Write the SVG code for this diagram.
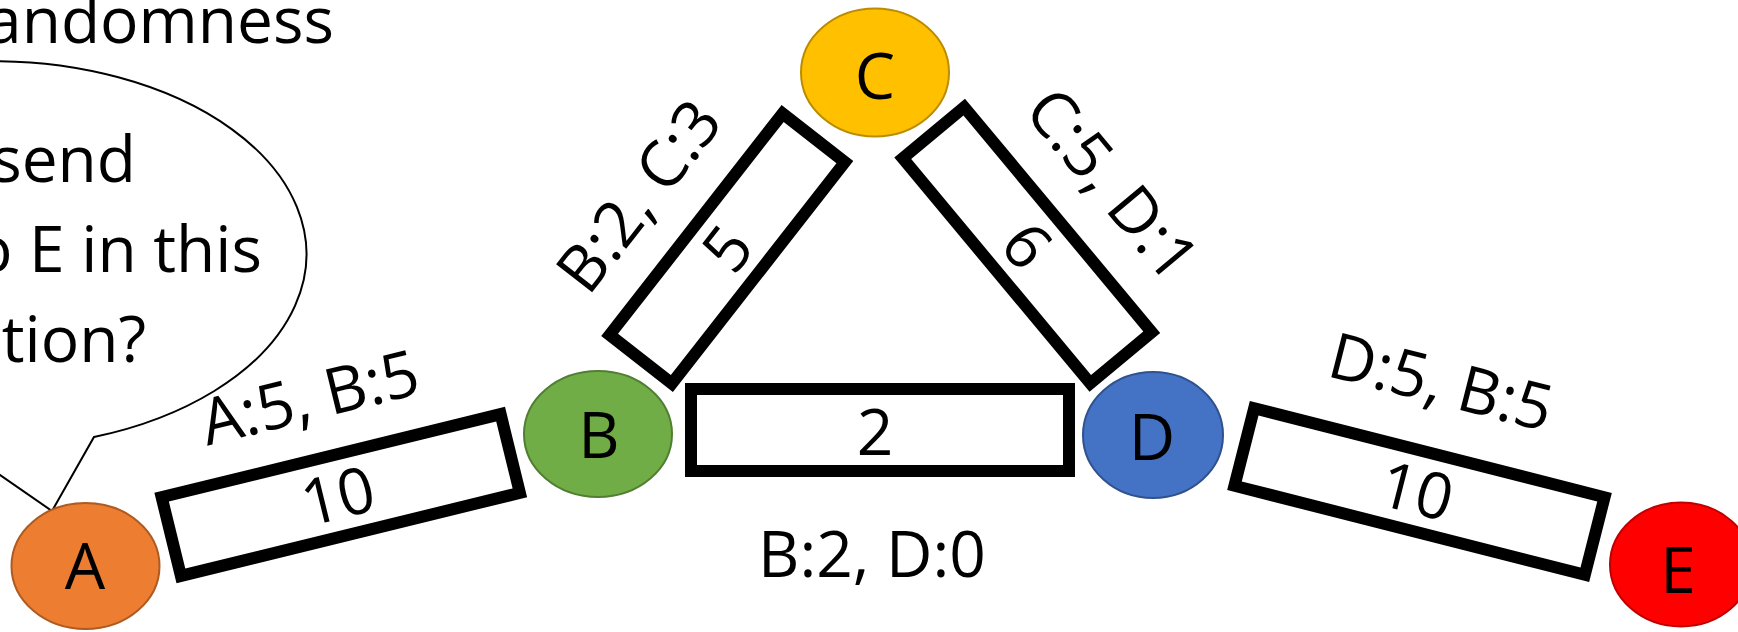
<svg xmlns="http://www.w3.org/2000/svg" width="1738" height="632" viewBox="0 0 1738 632">
  <style>
    text { font-family: "Open Sans", "Liberation Sans", sans-serif; font-size: 64px; fill: #000; }
    .node text, .num, .lbl { text-anchor: middle; }
    .line { text-anchor: end; }
    .box { fill: #fff; stroke: #000; stroke-width: 12; }
    .bubble { fill: #fff; stroke: #000; stroke-width: 2; }
    .node ellipse { stroke-width: 2; }
  </style>
  <rect width="1738" height="632" fill="#fff"/>

  <!-- title, cut at the left edge -->
  <text id="title" class="line" x="334" y="43">andomness</text>

  <!-- speech bubble with its tail pointing at A -->
  <g id="callout">
    <path class="bubble" d="M -42 446 A 313 193 0 1 1 94 437 L 52 511 Z"/>
    <text class="line" x="136" y="182">send</text>
    <text class="line" x="262" y="272">o E in this</text>
    <text class="line" x="146" y="362">tion?</text>
  </g>

  <!-- links: a capacity box per link, with its label -->
  <g id="connectors">
    <g id="edge-AB" transform="translate(340.75 495) rotate(-13.77)">
      <rect class="box" x="-174.5" y="-40.5" width="349" height="81"/>
      <text class="num" x="-3" y="23">10</text>
      <text class="lbl" x="-7" y="-79.5">A:5, B:5</text>
    </g>
    <g id="edge-BC" transform="translate(727.25 248.5) rotate(-52)">
      <rect class="box" x="-140.5" y="-39.5" width="281" height="79"/>
      <text class="num" x="0" y="23">5</text>
      <text class="lbl" x="-13" y="-79.5">B:2, C:3</text>
    </g>
    <g id="edge-CD" transform="translate(1027.25 245.25) rotate(50.2)">
      <rect class="box" x="-146.5" y="-40" width="293" height="80"/>
      <text class="num" x="0" y="23">6</text>
      <text class="lbl" x="7.6" y="-82">C:5, D:1</text>
    </g>
    <g id="edge-BD">
      <rect class="box" x="691" y="389" width="378" height="82"/>
      <text class="num" x="875" y="455">2</text>
      <text class="lbl" x="872" y="577">B:2, D:0</text>
    </g>
    <g id="edge-DE" transform="translate(1419.5 491.5) rotate(14.26)">
      <rect class="box" x="-180.75" y="-40" width="361.5" height="80"/>
      <text class="num" x="-3" y="23">10</text>
      <text class="lbl" x="-6" y="-89">D:5, B:5</text>
    </g>
  </g>

  <!-- nodes -->
  <g id="node-A" class="node">
    <ellipse cx="85.5" cy="566" rx="74" ry="63" fill="#ED7D31" stroke="#AE5A21"/>
    <text x="85" y="589">A</text>
  </g>
  <g id="node-B" class="node">
    <ellipse cx="598" cy="434" rx="74" ry="63" fill="#70AD47" stroke="#507E32"/>
    <text x="599" y="458">B</text>
  </g>
  <g id="node-C" class="node">
    <ellipse cx="875" cy="72.5" rx="74" ry="64" fill="#FFC000" stroke="#BC8C00"/>
    <text x="875" y="99">C</text>
  </g>
  <g id="node-D" class="node">
    <ellipse cx="1153" cy="435" rx="70" ry="63" fill="#4472C4" stroke="#2F528F"/>
    <text x="1152" y="460">D</text>
  </g>
  <g id="node-E" class="node">
    <ellipse cx="1681" cy="564.5" rx="71" ry="62" fill="#FF0000" stroke="#C00000"/>
    <text x="1678" y="593">E</text>
  </g>
</svg>
